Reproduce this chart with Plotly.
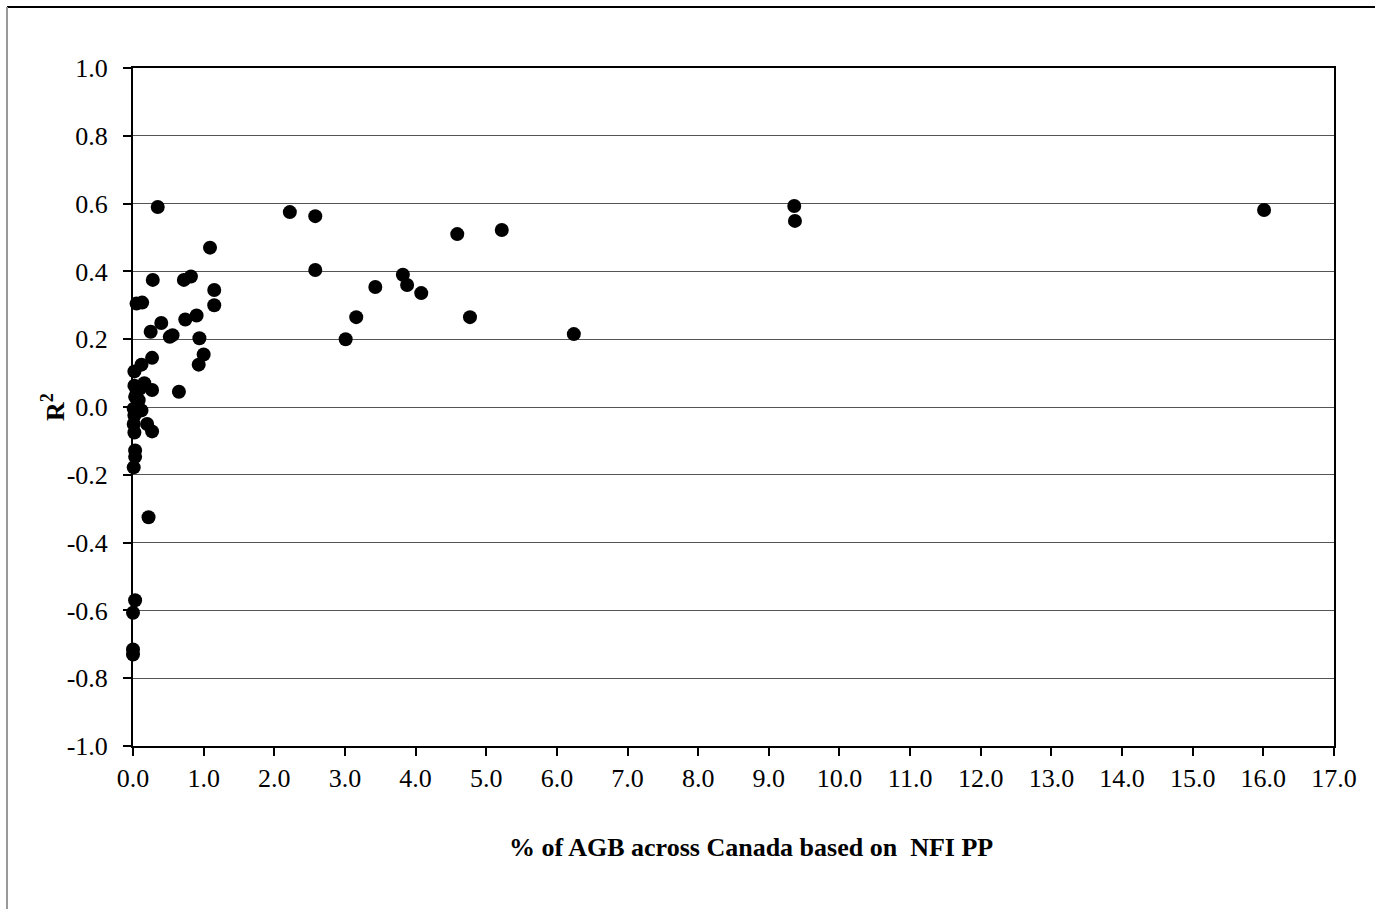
import plotly.graph_objects as go

agb_pct = [0.35, 1.09, 0.28, 0.72, 0.82, 1.15, 1.15, 0.05, 0.13, 0.40, 0.25, 0.74, 0.90,
           0.52, 0.56, 0.94, 0.27, 1.00, 0.93, 0.65, 0.12, 0.02, 0.02, 0.16, 0.27, 0.10,
           0.03, 0.08, 0.12, 0.01, 0.02, 0.20, 0.27, 0.01, 0.02, 0.03, 0.03, 0.01, 0.22,
           0.03, 0.00, 0.00, 0.00, 0.07, 0.05,
           2.22, 2.58, 2.58, 3.01, 3.16, 3.43, 3.82, 3.88, 4.08, 4.59, 4.77, 5.22, 6.24,
           9.36, 9.37, 16.01]
r2 = [0.59, 0.47, 0.375, 0.375, 0.385, 0.345, 0.30, 0.305, 0.308, 0.248, 0.222, 0.258, 0.27,
      0.207, 0.212, 0.203, 0.145, 0.155, 0.125, 0.045, 0.125, 0.105, 0.063, 0.07, 0.05, 0.055,
      0.03, 0.02, -0.01, -0.005, -0.025, -0.05, -0.072, -0.05, -0.075, -0.128, -0.147, -0.178, -0.325,
      -0.57, -0.607, -0.715, -0.73, 0.0, 0.04,
      0.575, 0.563, 0.404, 0.20, 0.265, 0.354, 0.39, 0.36, 0.336, 0.51, 0.265, 0.522, 0.215,
      0.593, 0.549, 0.581]

x_ticks = [i for i in range(0, 18)]
x_tick_labels = [f"{v:.1f}" for v in x_ticks]
y_ticks = [-1.0, -0.8, -0.6, -0.4, -0.2, 0.0, 0.2, 0.4, 0.6, 0.8, 1.0]
y_tick_labels = [f"{v:.1f}" for v in y_ticks]

FONT = "Liberation Serif, Times New Roman, serif"

fig = go.Figure()
fig.add_trace(go.Scatter(
    x=agb_pct, y=r2, mode="markers",
    marker=dict(color="black", size=14, line=dict(width=0)),
    showlegend=False, cliponaxis=False,
))

fig.update_layout(
    width=1375, height=909,
    margin=dict(l=133, r=41, t=68, b=163),
    paper_bgcolor="white", plot_bgcolor="white",
    font=dict(family=FONT, color="black", size=26),
    xaxis=dict(
        range=[0, 17], tickvals=x_ticks, ticktext=x_tick_labels,
        showgrid=False, zeroline=False,
        showline=True, linecolor="black", linewidth=2, mirror=True,
        ticks="outside", ticklen=8, tickcolor="black", tickwidth=1.5,
        tickfont=dict(family=FONT, size=26, color="black"),
    ),
    yaxis=dict(
        range=[-1, 1], tickvals=y_ticks, ticktext=y_tick_labels,
        showgrid=True, gridcolor="#555555", gridwidth=1, zeroline=False,
        showline=True, linecolor="black", linewidth=2, mirror=True,
        ticks="outside", ticklen=8, tickcolor="black", tickwidth=1.5,
        ticklabelstandoff=10,
        tickfont=dict(family=FONT, size=26, color="black"),
    ),
    annotations=[
        dict(text="<b>% of AGB across Canada based on  NFI PP</b>", xref="paper", yref="paper",
             x=(751 - 133) / 1201, y=-(847 - 746) / 678, xanchor="center", yanchor="middle",
             showarrow=False, font=dict(family=FONT, size=26, color="black")),
        dict(text="<b>R<sup>2</sup></b>", xref="paper", yref="paper",
             x=-(133 - 53) / 1201, y=(746 - 407) / 678, xanchor="center", yanchor="middle",
             textangle=-90, showarrow=False, font=dict(family=FONT, size=26, color="black")),
    ],
    shapes=[
        dict(type="line", xref="paper", yref="paper",
             x0=-(133 - 7) / 1201, x1=(1375 - 133) / 1201, y0=(746 - 7) / 678, y1=(746 - 7) / 678,
             line=dict(color="black", width=2)),
        dict(type="line", xref="paper", yref="paper",
             x0=-(133 - 7) / 1201, x1=-(133 - 7) / 1201, y0=(746 - 7) / 678, y1=-(909 - 746) / 678,
             line=dict(color="#999999", width=2)),
    ],
)

fig.write_html("out.html")
